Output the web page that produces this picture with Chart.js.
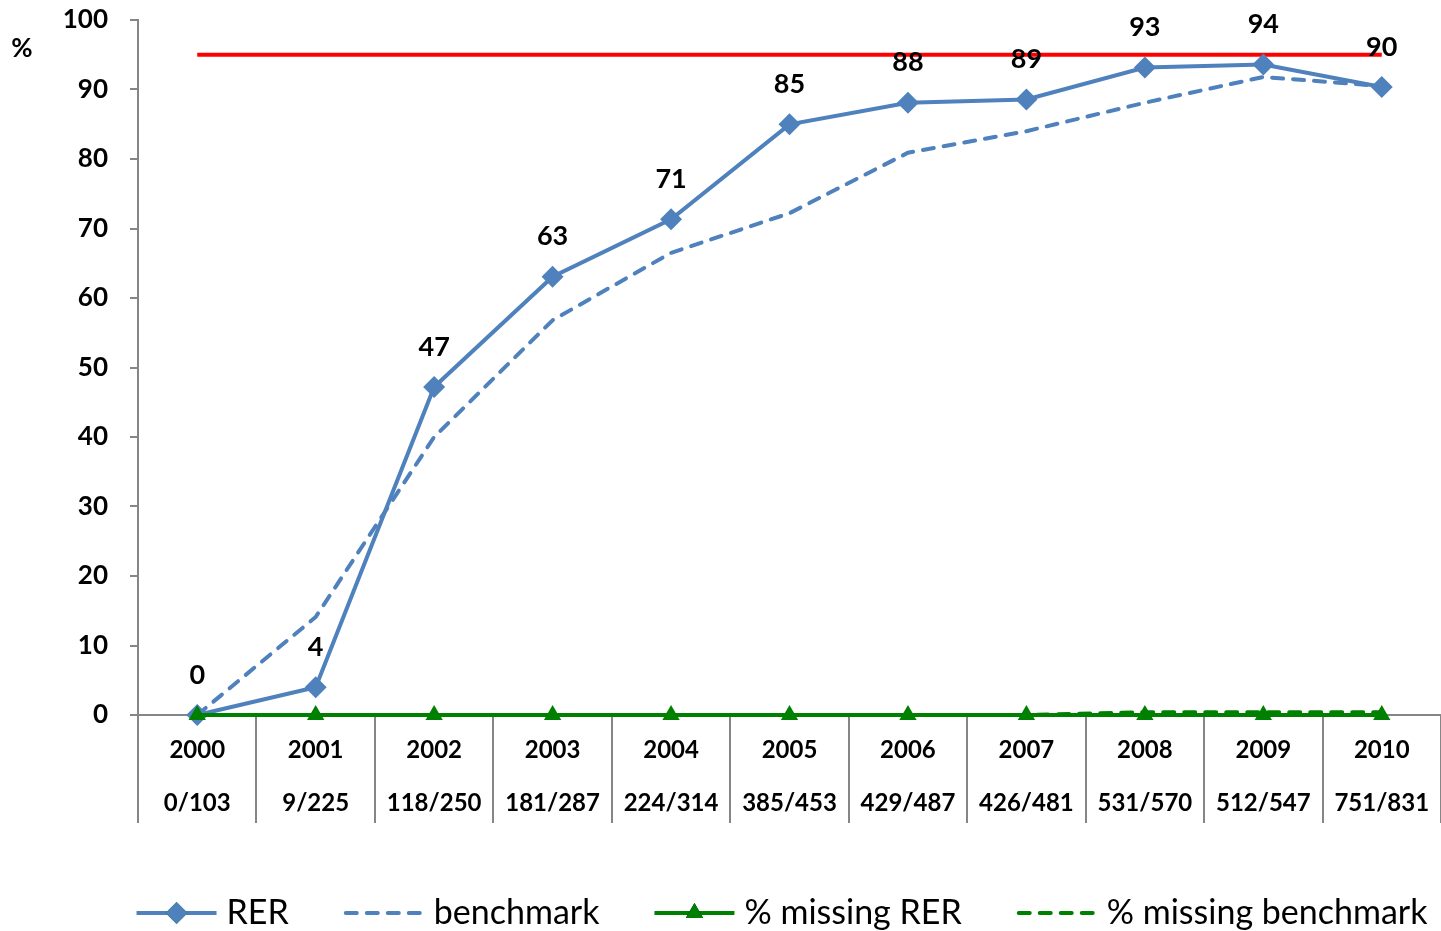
<!DOCTYPE html>
<html>
<head>
<meta charset="utf-8">
<title>RER</title>
<script src="https://cdn.jsdelivr.net/npm/chart.js@4.4.1/dist/chart.umd.min.js"></script>
<style>
  html, body { margin: 0; padding: 0; background: #ffffff; }
  #wrap { width: 1441px; height: 931px; position: relative; }
</style>
</head>
<body>
<div id="wrap"><canvas id="chart" width="1441" height="931"></canvas></div>
<script>
// Years and the counts behind each yearly rate
const years = ['2000', '2001', '2002', '2003', '2004', '2005', '2006', '2007', '2008', '2009', '2010'];
const counts = ['0/103', '9/225', '118/250', '181/287', '224/314', '385/453', '429/487', '426/481', '531/570', '512/547', '751/831'];

// Series values (%)
const rer = [0, 4.0, 47.2, 63.07, 71.34, 84.99, 88.09, 88.57, 93.16, 93.60, 90.37];
const benchmark = [0, 14.1, 40.0, 56.8, 66.5, 72.2, 80.9, 84.0, 88.1, 91.8, 90.5];
const missingRer = [0, 0, 0, 0, 0, 0, 0, 0, 0, 0, 0];
const missingBenchmark = [0, 0, 0, 0, 0, 0, 0, 0, 0.4, 0.4, 0.4];
const target = [95, 95, 95, 95, 95, 95, 95, 95, 95, 95, 95];

// Y axis ticks
const yMin = 0, yMax = 100, yStep = 10;

const BLUE = '#4F81BD';
const GREEN = '#008000';
const RED = '#FF0000';
const AXIS = '#868686';
const FONT = 'Lato, "Open Sans", "DejaVu Sans", sans-serif';

// Value labels above the RER markers
const valueLabels = {
  id: 'valueLabels',
  afterDatasetsDraw(chart) {
    const ctx = chart.ctx;
    const idx = chart.data.datasets.findIndex(d => d.label === 'RER');
    const meta = chart.getDatasetMeta(idx);
    ctx.save();
    ctx.font = 'bold 27px ' + FONT;
    ctx.fillStyle = '#000';
    ctx.textAlign = 'center';
    ctx.textBaseline = 'middle';
    meta.data.forEach((pt, i) => {
      const v = chart.data.datasets[idx].data[i];
      ctx.fillText(String(Math.round(v)), pt.x, pt.y - 40);
    });
    // unit label beside the y axis
    ctx.font = 'bold 26px ' + FONT;
    ctx.fillText('%', 22, 49);
    ctx.restore();
  }
};

// Legend below the axis: line sample with marker, then the series name
const lineLegend = {
  id: 'lineLegend',
  afterDraw(chart) {
    const ctx = chart.ctx;
    const items = chart.data.datasets.filter(d => d.inLegend);
    const sample = 80, gapText = 10, gapItem = 55;
    ctx.save();
    ctx.font = '34px ' + FONT;
    const widths = items.map(d => sample + gapText + ctx.measureText(d.label).width);
    const total = widths.reduce((a, b) => a + b, 0) + gapItem * (items.length - 1);
    let x = 782 - total / 2;
    const y = 913;
    items.forEach((d, i) => {
      ctx.strokeStyle = d.borderColor;
      ctx.lineWidth = d.borderWidth;
      ctx.lineCap = d.borderCapStyle || 'butt';
      ctx.setLineDash(d.borderDash || []);
      ctx.beginPath();
      ctx.moveTo(x + (d.borderDash ? 2 : 0), y);
      ctx.lineTo(x + sample, y);
      ctx.stroke();
      ctx.setLineDash([]);
      if (d.pointRadius > 0) {
        Chart.helpers.drawPoint(ctx, {
          pointStyle: d.pointStyle, radius: d.pointRadius, rotation: 0, borderWidth: 0
        }, x + sample / 2, y);
        ctx.fillStyle = d.backgroundColor;
        ctx.fill();
      }
      ctx.fillStyle = '#000';
      ctx.textAlign = 'left';
      ctx.textBaseline = 'middle';
      ctx.fillText(d.label, x + sample + gapText, y);
      x += widths[i] + gapItem;
    });
    ctx.restore();
  }
};

function build() {
  new Chart(document.getElementById('chart'), {
    type: 'line',
    data: {
      labels: years.map((y, i) => [y, counts[i]]),
      datasets: [
        {
          label: 'RER', data: rer, inLegend: true, order: 2,
          borderColor: BLUE, backgroundColor: BLUE, borderWidth: 4,
          pointStyle: 'rectRot', pointRadius: 11, pointBorderWidth: 0,
          tension: 0, clip: false
        },
        {
          label: 'benchmark', data: benchmark, inLegend: true, order: 3,
          borderColor: BLUE, backgroundColor: BLUE, borderWidth: 4,
          borderDash: [11, 10], borderCapStyle: 'round',
          pointRadius: 0, tension: 0, clip: false
        },
        {
          label: '% missing RER', data: missingRer, inLegend: true, order: 0,
          borderColor: GREEN, backgroundColor: GREEN, borderWidth: 4,
          pointStyle: 'triangle', pointRadius: 10, pointBorderWidth: 0,
          tension: 0, clip: false
        },
        {
          label: '% missing benchmark', data: missingBenchmark, inLegend: true, order: 1,
          borderColor: GREEN, backgroundColor: GREEN, borderWidth: 4,
          borderDash: [11, 10], borderCapStyle: 'round',
          pointRadius: 0, tension: 0, clip: false
        },
        {
          label: 'target', data: target, inLegend: false, order: 4,
          borderColor: RED, backgroundColor: RED, borderWidth: 4,
          pointRadius: 0, tension: 0, clip: false
        }
      ]
    },
    options: {
      responsive: false,
      animation: false,
      events: [],
      layout: { autoPadding: false, padding: { top: 20, right: -2, bottom: 101, left: 0 } },
      scales: {
        x: {
          offset: true,
          grid: {
            offset: true, drawOnChartArea: false, drawTicks: true,
            tickLength: 108, color: AXIS, lineWidth: 2
          },
          border: { color: AXIS, width: 2 },
          ticks: {
            autoSkip: false, maxRotation: 0, minRotation: 0,
            color: '#000', padding: -99,
            font: { family: FONT, weight: 'bold', size: 24, lineHeight: 2.2083 }
          },
          afterFit(scale) {
            scale.height = 115;
            scale.paddingLeft = 0;
            scale.paddingRight = 0;
          }
        },
        y: {
          min: yMin, max: yMax,
          grid: {
            drawOnChartArea: false, drawTicks: true, tickLength: 8,
            color: AXIS, lineWidth: 2
          },
          border: { color: AXIS, width: 2 },
          ticks: {
            stepSize: yStep, color: '#000', padding: 22,
            font: { family: FONT, weight: 'bold', size: 26 }
          },
          afterFit(scale) {
            scale.width = 138;
            scale.paddingTop = 0;
            scale.paddingBottom = 0;
          }
        }
      },
      plugins: { legend: { display: false }, tooltip: { enabled: false } }
    },
    plugins: [valueLabels, lineLegend]
  });
}

if (document.fonts && document.fonts.load) {
  Promise.all([
    document.fonts.load('bold 24px Lato'),
    document.fonts.load('34px Lato')
  ]).then(build, build);
} else {
  build();
}
</script>
</body>
</html>
